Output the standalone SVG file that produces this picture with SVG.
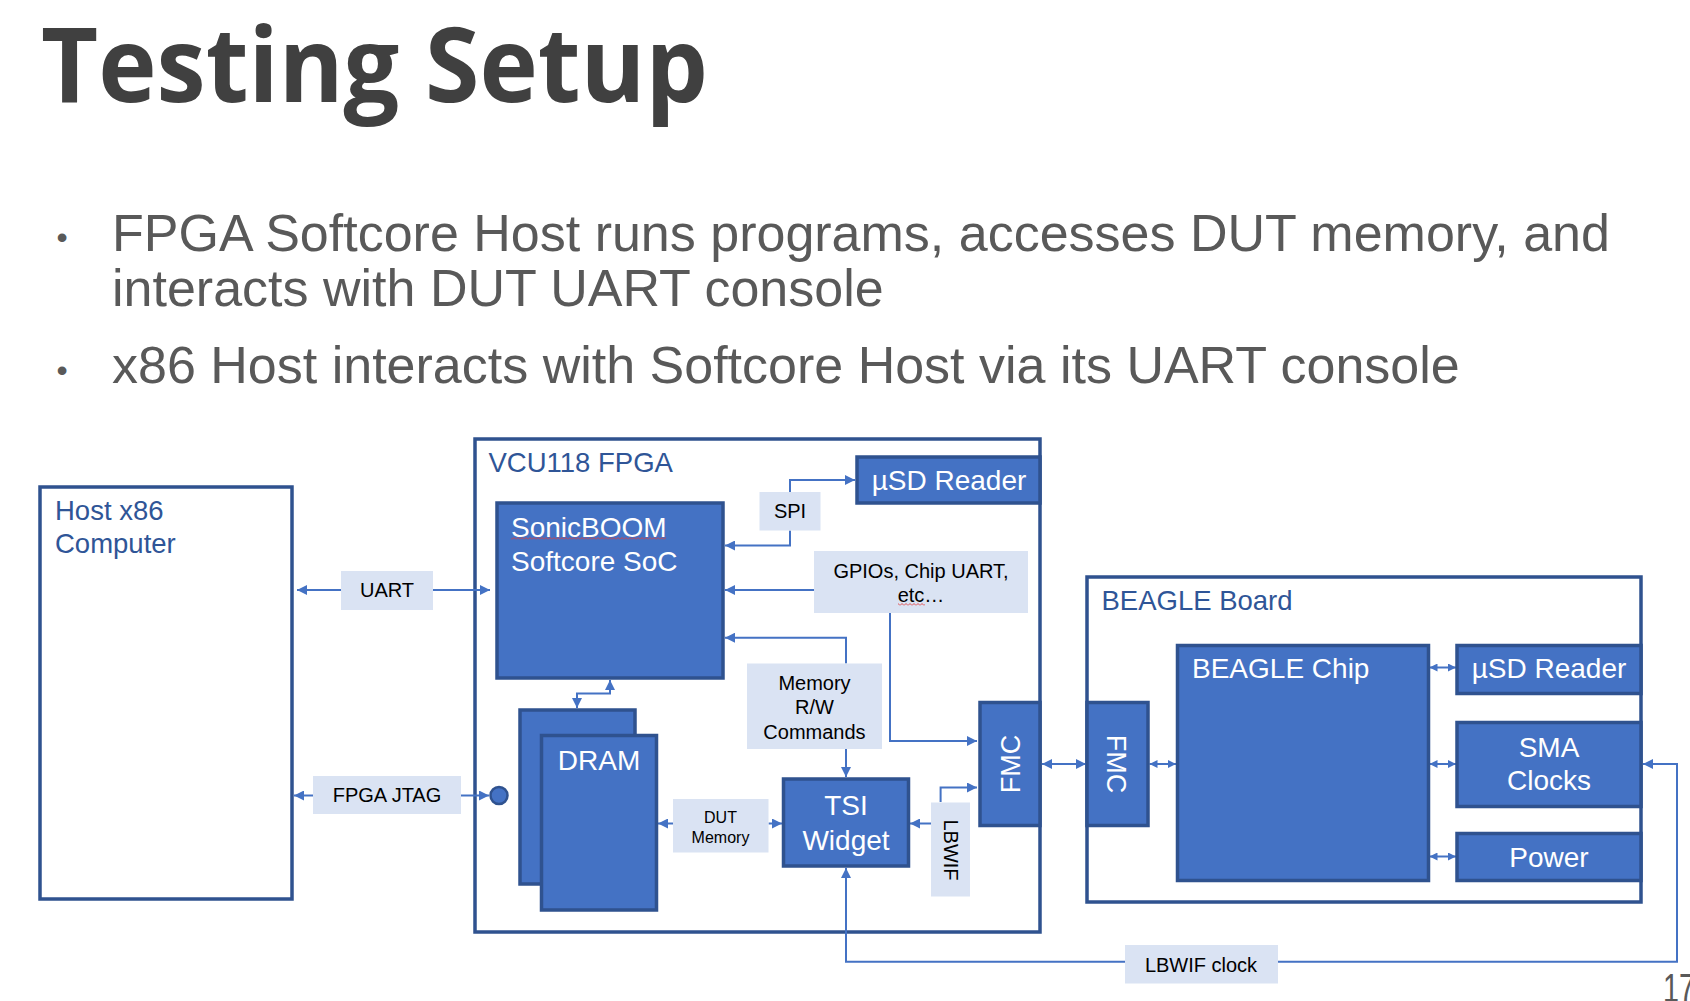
<svg xmlns="http://www.w3.org/2000/svg" width="1690" height="1001" viewBox="0 0 1690 1001">
<style>
.title{font-family:"Open Sans","Liberation Sans",sans-serif;font-weight:700;font-size:104px;fill:#404040}
.bul{font-family:"Liberation Sans",Arial,sans-serif;font-size:52px;fill:#595959}
.dot{font-family:"Liberation Sans",Arial,sans-serif;font-size:32px;fill:#595959}
.cont{fill:#FFFFFF;stroke:#2F528F;stroke-width:3.5}
.ctext{font-family:"Liberation Sans",Arial,sans-serif;font-size:27.5px;fill:#2F5597}
.blk{fill:#4472C4;stroke:#2F528F;stroke-width:3.5}
.btext{font-family:"Liberation Sans",Arial,sans-serif;font-size:28px;fill:#FFFFFF}
.lab{fill:#DAE3F3}
.ltext{font-family:"Liberation Sans",Arial,sans-serif;font-size:20px;fill:#000000}
.stext{font-family:"Liberation Sans",Arial,sans-serif;font-size:16px;fill:#000000}
.mid{text-anchor:middle}
.conn{fill:none;stroke:#4472C4;stroke-width:2}
.pg{font-family:"Liberation Sans",Arial,sans-serif;font-size:40px;fill:#595959}
</style>
<defs>
<marker id="ah" viewBox="0 0 10 10" refX="10" refY="5" markerWidth="10" markerHeight="10" markerUnits="userSpaceOnUse" orient="auto-start-reverse">
<path d="M0,0 L10,5 L0,10 z" fill="#4472C4"/>
</marker>
<marker id="ahs" viewBox="0 0 8 8" refX="8" refY="4" markerWidth="8" markerHeight="8" markerUnits="userSpaceOnUse" orient="auto-start-reverse">
<path d="M0,0 L8,4 L0,8 z" fill="#4472C4"/>
</marker>
<pattern id="wavy" width="4" height="3" patternUnits="userSpaceOnUse">
<path d="M0,2.5 L2,0.5 L4,2.5" fill="none" stroke="#E03C3C" stroke-width="0.9"/>
</pattern>
</defs>
<rect width="1690" height="1001" fill="#FFFFFF"/>

<text class="title" x="41" y="102" textLength="667" lengthAdjust="spacingAndGlyphs">Testing Setup</text>

<g id="bullets">
<text class="dot" x="56.4" y="248">•</text>
<text class="bul" x="112" y="251">FPGA Softcore Host runs programs, accesses DUT memory, and</text>
<text class="bul" x="112" y="306">interacts with DUT UART console</text>
<text class="dot" x="56.4" y="381">•</text>
<text class="bul" x="112" y="383">x86 Host interacts with Softcore Host via its UART console</text>
</g>

<g id="host">
<rect class="cont" x="40" y="487" width="252" height="412"/>
<text class="ctext" x="55" y="520">Host x86</text>
<text class="ctext" x="55" y="553">Computer</text>
</g>
<g id="fpga">
<rect class="cont" x="475" y="439" width="565" height="493"/>
<text class="ctext" x="488.5" y="472">VCU118 FPGA</text>
</g>
<g id="beagle-board">
<rect class="cont" x="1087" y="577" width="554" height="325"/>
<text class="ctext" x="1101.5" y="610">BEAGLE Board</text>
</g>

<g id="connectors">
<path class="conn" d="M341,590 L297,590" marker-end="url(#ah)"/>
<path class="conn" d="M433,590 L490,590" marker-end="url(#ah)"/>
<path class="conn" d="M313,795.5 L294,795.5" marker-end="url(#ah)"/>
<path class="conn" d="M461,795.5 L489,795.5" marker-end="url(#ah)"/>
<path class="conn" d="M790,492 L790,480 L855,480" marker-end="url(#ah)"/>
<path class="conn" d="M790,530.5 L790,545.5 L725,545.5" marker-end="url(#ah)"/>
<path class="conn" d="M814,590 L725,590" marker-end="url(#ah)"/>
<path class="conn" d="M890,613 L890,741 L977,741" marker-end="url(#ah)"/>
<path class="conn" d="M846,663.5 L846,637.7 L725,637.7" marker-end="url(#ah)"/>
<path class="conn" d="M846,749 L846,777" marker-end="url(#ah)"/>
<path class="conn" d="M577,708 L577,693.5 L610,693.5 L610,680" marker-start="url(#ah)" marker-end="url(#ah)"/>
<path class="conn" d="M673,823.5 L658,823.5" marker-end="url(#ah)"/>
<path class="conn" d="M768.5,823.5 L782,823.5" marker-end="url(#ah)"/>
<path class="conn" d="M931,823.5 L910,823.5" marker-end="url(#ah)"/>
<path class="conn" d="M940.6,802 L940.6,787.5 L977,787.5" marker-end="url(#ah)"/>
<path class="conn" d="M1042,764 L1086,764" marker-start="url(#ah)" marker-end="url(#ah)"/>
<path class="conn" d="M1149.5,764 L1176,764" marker-start="url(#ahs)" marker-end="url(#ahs)"/>
<path class="conn" d="M1429.5,667.5 L1456,667.5" marker-start="url(#ahs)" marker-end="url(#ahs)"/>
<path class="conn" d="M1429.5,764 L1456,764" marker-start="url(#ahs)" marker-end="url(#ahs)"/>
<path class="conn" d="M1429.5,856.5 L1456,856.5" marker-start="url(#ahs)" marker-end="url(#ahs)"/>
<path class="conn" d="M846,868 L846,961.7 L1677,961.7 L1677,764 L1643,764" marker-start="url(#ah)" marker-end="url(#ah)"/>
</g>

<g id="uart-label">
<rect class="lab" x="341" y="571" width="92" height="39"/>
<text class="ltext mid" x="387" y="597">UART</text>
</g>
<g id="jtag-label">
<rect class="lab" x="313" y="776" width="148" height="38"/>
<text class="ltext mid" x="387" y="802">FPGA JTAG</text>
</g>
<g id="jtag-port">
<circle cx="499" cy="795.5" r="8.5" fill="#4472C4" stroke="#2F528F" stroke-width="2.5"/>
</g>
<g id="fpga-usd">
<rect class="blk" x="857" y="457" width="183" height="46"/>
<text class="btext mid" x="949" y="490">µSD Reader</text>
</g>
<g id="spi-label">
<rect class="lab" x="759.5" y="492" width="61" height="38.5"/>
<text class="ltext mid" x="790" y="517.5">SPI</text>
</g>
<g id="soc">
<rect class="blk" x="497" y="503" width="226" height="175"/>
<text class="btext" x="511" y="537">SonicBOOM</text>
<rect x="511" y="537" width="155" height="3" fill="url(#wavy)"/>
<text class="btext" x="511" y="571">Softcore SoC</text>
</g>
<g id="gpio-label">
<rect class="lab" x="814" y="551" width="214" height="62"/>
<text class="ltext mid" x="921" y="578">GPIOs, Chip UART,</text>
<text class="ltext mid" x="921" y="602">etc…</text>
<rect x="898" y="603" width="27" height="3" fill="url(#wavy)"/>
</g>
<g id="mem-label">
<rect class="lab" x="747" y="663.5" width="135" height="85.5"/>
<text class="ltext mid" x="814.5" y="690">Memory</text>
<text class="ltext mid" x="814.5" y="713.5">R/W</text>
<text class="ltext mid" x="814.5" y="738.5">Commands</text>
</g>
<g id="dram">
<rect class="blk" x="520" y="710" width="115" height="174"/>
<rect class="blk" x="541.5" y="735.5" width="115" height="174.5"/>
<text class="btext mid" x="599" y="769.5">DRAM</text>
</g>
<g id="dut-label">
<rect class="lab" x="673" y="799" width="95.5" height="53.5"/>
<text class="stext mid" x="720.5" y="822.7">DUT</text>
<text class="stext mid" x="720.5" y="842.5">Memory</text>
</g>
<g id="tsi">
<rect class="blk" x="783.5" y="779" width="125" height="87"/>
<text class="btext mid" x="846" y="815">TSI</text>
<text class="btext mid" x="846" y="849.5">Widget</text>
</g>
<g id="lbwif-label">
<rect class="lab" x="931" y="802.5" width="39" height="94"/>
<text class="ltext mid" transform="translate(951,850) rotate(90)" x="0" y="7.2">LBWIF</text>
</g>
<g id="fpga-fmc">
<rect class="blk" x="980" y="702.5" width="60" height="123"/>
<text class="btext mid" style="font-size:27px" transform="translate(1010,764) rotate(-90)" x="0" y="9.7">FMC</text>
</g>
<g id="beagle-fmc">
<rect class="blk" x="1087" y="702.5" width="61" height="123"/>
<text class="btext mid" style="font-size:27px" transform="translate(1117,764) rotate(90)" x="0" y="9.7">FMC</text>
</g>
<g id="beagle-chip">
<rect class="blk" x="1177.5" y="645.5" width="251" height="235"/>
<text class="btext" x="1192" y="678">BEAGLE Chip</text>
</g>
<g id="beagle-usd">
<rect class="blk" x="1457" y="645.5" width="184" height="48"/>
<text class="btext mid" x="1549" y="678">µSD Reader</text>
</g>
<g id="sma">
<rect class="blk" x="1457" y="722.5" width="184" height="84"/>
<text class="btext mid" x="1549" y="757">SMA</text>
<text class="btext mid" x="1549" y="790">Clocks</text>
</g>
<g id="power">
<rect class="blk" x="1457" y="833.5" width="184" height="47"/>
<text class="btext mid" x="1549" y="867">Power</text>
</g>
<g id="lbwif-clock-label">
<rect class="lab" x="1125" y="945" width="153" height="38.5"/>
<text class="ltext mid" x="1201" y="971.7">LBWIF clock</text>
</g>

<text class="pg" x="1663" y="1002" textLength="32" lengthAdjust="spacingAndGlyphs">17</text>
</svg>
